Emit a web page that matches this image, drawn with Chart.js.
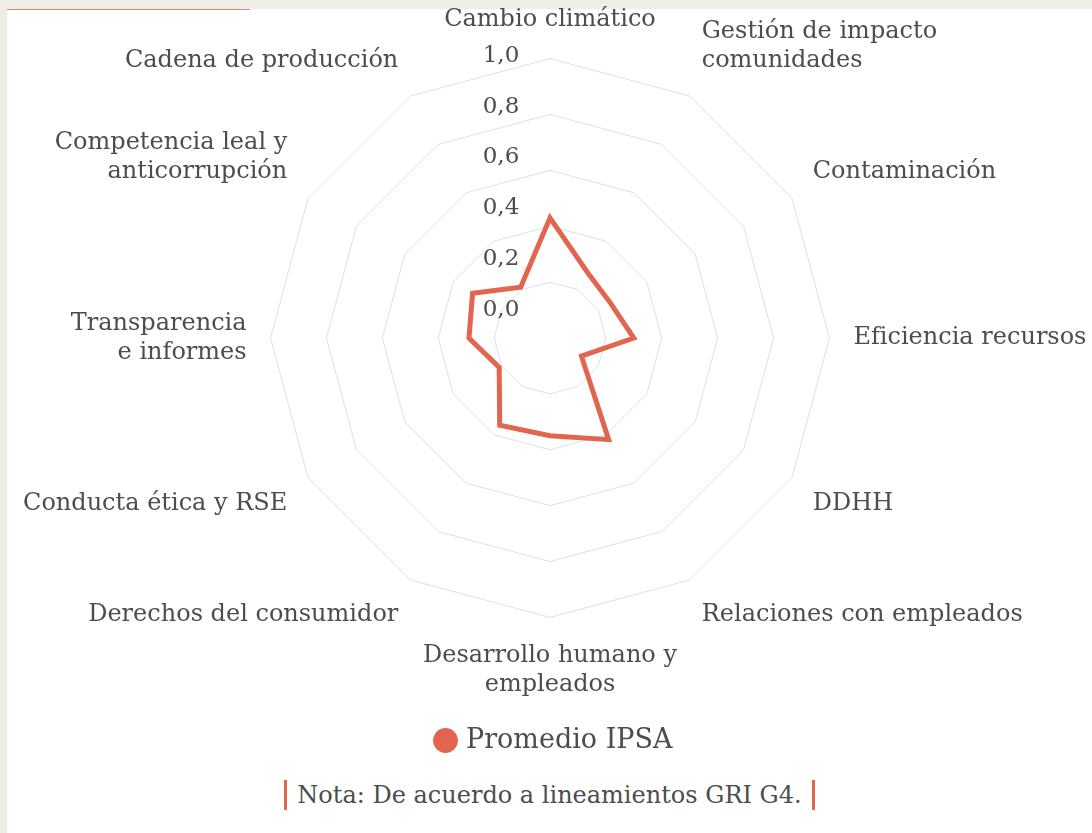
<!DOCTYPE html>
<html lang="es">
<head>
<meta charset="utf-8">
<title>Promedio IPSA</title>
<script src="https://cdn.jsdelivr.net/npm/chart.js@4/dist/chart.umd.min.js"></script>
<style>
  html, body { margin: 0; padding: 0; }
  body { background: #efeee6; width: 1092px; height: 833px; overflow: hidden; font-family: "DejaVu Serif", serif; }
  #card { position: absolute; left: 7px; top: 9px; right: 0; bottom: 0; background: #fff; }
  #accent { position: absolute; left: 0; top: 0; width: 243px; height: 1px; background: #e4826f; }
  #chartBox { position: absolute; left: 0; top: -17px; width: 1085px; height: 777px; }
  #note { position: absolute; left: 0; right: 0; top: 771px; text-align: center; }
  #note span { display: inline-block; color: #4d4d4d; font-size: 24px; line-height: 30px; padding: 0 10px; border-left: 3px solid #e2654f; border-right: 3px solid #e2654f; }
</style>
</head>
<body>
<div id="card">
  <div id="accent"></div>
  <div id="chartBox"><canvas id="radar"></canvas></div>
  <div id="note"><span>Nota: De acuerdo a lineamientos GRI G4.</span></div>
</div>
<script>
'use strict';

// categories, clockwise from the top
let categories = [
  'Cambio climático',
  ['Gestión de impacto', 'comunidades'],
  'Contaminación',
  'Eficiencia recursos',
  'DDHH',
  'Relaciones con empleados',
  ['Desarrollo humano y', 'empleados'],
  'Derechos del consumidor',
  'Conducta ética y RSE',
  ['Transparencia', 'e informes'],
  ['Competencia leal y', 'anticorrupción'],
  'Cadena de producción'
];

let seriesName = 'Promedio IPSA';
let promedioIpsa = [0.43, 0.27, 0.25, 0.30, 0.13, 0.42, 0.35, 0.36, 0.21, 0.29, 0.32, 0.21];

let tickValues = [0, 0.2, 0.4, 0.6, 0.8, 1.0];

let lineColor = '#e2654f';
let textColor = '#4d4d4d';
let gridColor = '#d8e2e6';
let fontFamily = '"DejaVu Serif", serif';

function formatTick(v) {
  return v.toFixed(1).replace('.', ',');
}

// tick labels sit left of the vertical axis, like the original
const tickLabels = {
  id: 'tickLabels',
  afterDatasetsDraw(chart) {
    let r = chart.scales.r;
    let ctx = chart.ctx;
    ctx.save();
    ctx.font = '23px ' + fontFamily;
    ctx.fillStyle = textColor;
    ctx.textAlign = 'center';
    ctx.textBaseline = 'middle';
    for (let v of tickValues) {
      let d = r.getDistanceFromCenterForValue(v);
      ctx.fillText(formatTick(v), r.xCenter - 49, r.yCenter - 28 - d * 0.91);
    }
    ctx.restore();
  }
};

const data = {
  labels: categories,
  datasets: [{
    label: seriesName,
    data: promedioIpsa,
    borderColor: lineColor,
    backgroundColor: lineColor,
    borderWidth: 5,
    borderJoinStyle: 'miter',
    fill: false,
    pointRadius: 0,
    pointHoverRadius: 0,
    pointStyle: 'circle'
  }]
};

const config = {
  type: 'radar',
  data: data,
  options: {
    responsive: true,
    maintainAspectRatio: false,
    animation: false,
    layout: { padding: { top: 0, bottom: 5, left: 12, right: 0 } },
    scales: {
      r: {
        min: 0,
        max: 1,
        ticks: { stepSize: 0.2, display: false },
        grid: { color: gridColor, lineWidth: 1 },
        angleLines: { display: false },
        pointLabels: {
          color: textColor,
          padding: 24,
          font: { family: fontFamily, size: 24 }
        }
      }
    },
    plugins: {
      legend: {
        position: 'bottom',
        labels: {
          color: textColor,
          usePointStyle: true,
          boxWidth: 14,
          boxHeight: 14,
          padding: 14,
          font: { family: fontFamily, size: 27 }
        }
      },
      tooltip: { enabled: false }
    }
  },
  plugins: [tickLabels]
};

const myChart = new Chart(document.getElementById('radar'), config);
</script>
</body>
</html>
